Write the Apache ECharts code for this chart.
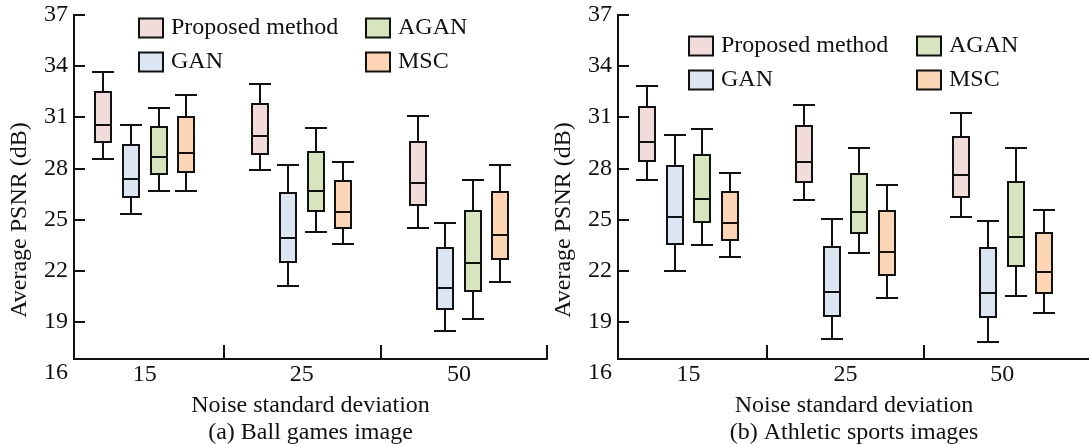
<!DOCTYPE html>
<html><head><meta charset="utf-8">
<script src="https://cdn.jsdelivr.net/npm/echarts@6/dist/echarts.min.js"></script>
<style>html,body{margin:0;padding:0;background:#fff}#c{width:1089px;height:444px}</style>
</head><body><div id="c"></div>
<script>
// ---- data ----
const noiseLevels = ['15', '25', '50'];
const methods = ['Proposed method', 'GAN', 'AGAN', 'MSC'];
const yTickValues = [16, 19, 22, 25, 28, 31, 34, 37];
// each row: [min, Q1, median, Q3, max] for noise 15, 25, 50
const ballProposed = [[28.53, 29.54, 30.56, 32.46, 33.65], [27.88, 28.86, 29.89, 31.77, 32.93], [24.48, 25.85, 27.14, 29.56, 31.07]];
const ballGAN      = [[25.30, 26.33, 27.39, 29.37, 30.54], [21.10, 22.50, 23.93, 26.57, 28.19], [18.44, 19.73, 20.96, 23.34, 24.81]];
const ballAGAN     = [[26.67, 27.67, 28.64, 30.44, 31.55], [24.28, 25.50, 26.69, 28.97, 30.38], [19.16, 20.80, 22.43, 25.50, 27.31]];
const ballMSC      = [[26.67, 27.78, 28.92, 31.01, 32.28], [23.54, 24.48, 25.45, 27.26, 28.35], [21.35, 22.70, 24.11, 26.63, 28.19]];
const athProposed  = [[27.31, 28.43, 29.52, 31.61, 32.83], [26.14, 27.21, 28.37, 30.48, 31.73], [25.12, 26.33, 27.61, 29.85, 31.22]];
const athGAN       = [[21.96, 23.54, 25.16, 28.15, 29.95], [17.97, 19.34, 20.76, 23.40, 25.03], [17.83, 19.26, 20.66, 23.31, 24.93]];
const athAGAN      = [[23.50, 24.85, 26.22, 28.78, 30.32], [23.01, 24.22, 25.44, 27.67, 29.17], [20.53, 22.27, 23.99, 27.21, 29.17]];
const athMSC       = [[22.81, 23.79, 24.77, 26.63, 27.72], [20.41, 21.74, 23.07, 25.51, 27.02], [19.49, 20.70, 21.94, 24.19, 25.55]];

// ---- styling / layout ----
const FONT = '"Liberation Serif", "Times New Roman", serif';
const INK = '#111';
const fills = ['#F2DCDB', '#DCE6F2', '#D7E4BD', '#FCD5B5'];
const X_MIN = 0.55, X_MAX = 3.56, Y_MIN = 16, Y_MAX = 37, X_CROSS = 16.8;
const GROUP_STEP = 0.176;
const BOX_W = 16, CAP_W = 22;

const panels = [
  { sets: [ballProposed, ballGAN, ballAGAN, ballMSC], caption: '(a) Ball games image', left: 74, width: 473 },
  { sets: [athProposed, athGAN, athAGAN, athMSC], caption: '(b) Athletic sports images', left: 618, width: 472 }
];

function renderBox(params, api) {
  const x = api.value(0);
  const R = Math.round;
  const lo = R(api.coord([x, api.value(1)])[1]);
  const q1 = R(api.coord([x, api.value(2)])[1]);
  const med = R(api.coord([x, api.value(3)])[1]);
  const q3 = R(api.coord([x, api.value(4)])[1]);
  const hi = R(api.coord([x, api.value(5)])[1]);
  const cx = R(api.coord([x, api.value(1)])[0]);
  const ls = { stroke: INK, lineWidth: 2, fill: null };
  const fill = fills[params.seriesIndex % 4];
  return { type: 'group', children: [
    { type: 'line', shape: { x1: cx, y1: hi, x2: cx, y2: q3 }, style: ls },
    { type: 'line', shape: { x1: cx, y1: q1, x2: cx, y2: lo }, style: ls },
    { type: 'line', shape: { x1: cx - CAP_W / 2, y1: hi, x2: cx + CAP_W / 2, y2: hi }, style: ls },
    { type: 'line', shape: { x1: cx - CAP_W / 2, y1: lo, x2: cx + CAP_W / 2, y2: lo }, style: ls },
    { type: 'rect', shape: { x: cx - BOX_W / 2, y: q3, width: BOX_W, height: q1 - q3 }, style: { fill: fill, stroke: INK, lineWidth: 2 } },
    { type: 'line', shape: { x1: cx - BOX_W / 2, y1: med, x2: cx + BOX_W / 2, y2: med }, style: ls }
  ]};
}

const textBase = { color: INK, fontFamily: FONT, fontSize: 24 };
const grids = [], xAxes = [], yAxes = [], series = [];
panels.forEach((p, g) => {
  grids.push({ left: p.left, width: p.width, top: 14.85, bottom: 71.1, containLabel: false, outerBoundsMode: 'none' });
  xAxes.push({
    gridIndex: g, type: 'value', min: X_MIN, max: X_MAX, offset: 0,
    axisLine: { lineStyle: { color: INK, width: 2 } },
    axisTick: { inside: true, length: 14, customValues: [1.5, 2.5, X_MAX], lineStyle: { color: INK, width: 2 } },
    axisLabel: Object.assign({ customValues: [1, 2, 3], formatter: v => noiseLevels[Math.round(v) - 1], margin: 4 }, textBase),
    splitLine: { show: false },
    name: 'Noise standard deviation\n' + p.caption, nameLocation: 'middle', nameGap: 28,
    nameTextStyle: Object.assign({ lineHeight: 27 }, textBase)
  });
  yAxes.push({
    gridIndex: g, type: 'value', min: Y_MIN, max: Y_MAX,
    axisLine: { show: false },
    axisTick: { inside: true, length: 11, customValues: yTickValues.slice(1), lineStyle: { color: INK, width: 2 } },
    axisLabel: Object.assign({ customValues: yTickValues, margin: 6 }, textBase),
    splitLine: { show: false }
  });
  p.sets.forEach((set, m) => {
    series.push({
      type: 'custom', name: methods[m], xAxisIndex: g, yAxisIndex: g,
      renderItem: renderBox,
      encode: { x: 0, y: [1, 2, 3, 4, 5] },
      itemStyle: { color: fills[m], borderColor: INK, borderWidth: 2 },
      data: set.map((row, i) => [i + 1 + (m - 1.5) * GROUP_STEP].concat(row))
    });
  });
});

function legendItems(idx) {
  return idx.map(m => ({ name: methods[m], itemStyle: { color: fills[m], borderColor: INK, borderWidth: 2 } }));
}
const legendCommon = {
  orient: 'vertical', icon: 'rect', itemWidth: 24, itemHeight: 19, itemGap: 10, padding: 0,
  selectedMode: false, textStyle: Object.assign({ lineHeight: 24, padding: [0, 0, 0, 3] }, textBase)
};
const legends = [
  Object.assign({ left: 138, top: 16, data: legendItems([0, 1]) }, legendCommon),
  Object.assign({ left: 365, top: 16, data: legendItems([2, 3]) }, legendCommon),
  Object.assign({ left: 688, top: 34, data: legendItems([0, 1]) }, legendCommon),
  Object.assign({ left: 916, top: 34, data: legendItems([2, 3]) }, legendCommon)
];

const chart = echarts.init(document.getElementById('c'), null, { renderer: 'canvas' });
chart.setOption({
  animation: false, backgroundColor: '#fff',
  grid: grids, xAxis: xAxes, yAxis: yAxes, series: series, legend: legends
});

// x axis crosses the y axis at X_CROSS; y axis line runs from Y_MAX down to it
const offsets = [], graphics = [];
panels.forEach((p, g) => {
  const top = chart.convertToPixel({ gridIndex: g }, [X_MIN, Y_MAX]);
  const cross = chart.convertToPixel({ gridIndex: g }, [X_MIN, X_CROSS]);
  const bottom = chart.convertToPixel({ gridIndex: g }, [X_MIN, Y_MIN]);
  offsets.push({ offset: Math.round(cross[1] - bottom[1]) });
  const ax = Math.round(top[0]);
  graphics.push({ type: 'line', shape: { x1: ax, y1: Math.round(top[1]) - 1, x2: ax, y2: Math.round(cross[1]) + 1 }, style: { stroke: INK, lineWidth: 2 } });
  graphics.push({
    type: 'text', x: ax - 54, y: 220, rotation: Math.PI / 2,
    style: { text: 'Average PSNR (dB)', font: '24px ' + FONT, fill: INK, align: 'center', verticalAlign: 'middle', textAlign: 'center', textVerticalAlign: 'middle' }
  });
});
chart.setOption({ xAxis: offsets, graphic: graphics });
</script></body></html>
